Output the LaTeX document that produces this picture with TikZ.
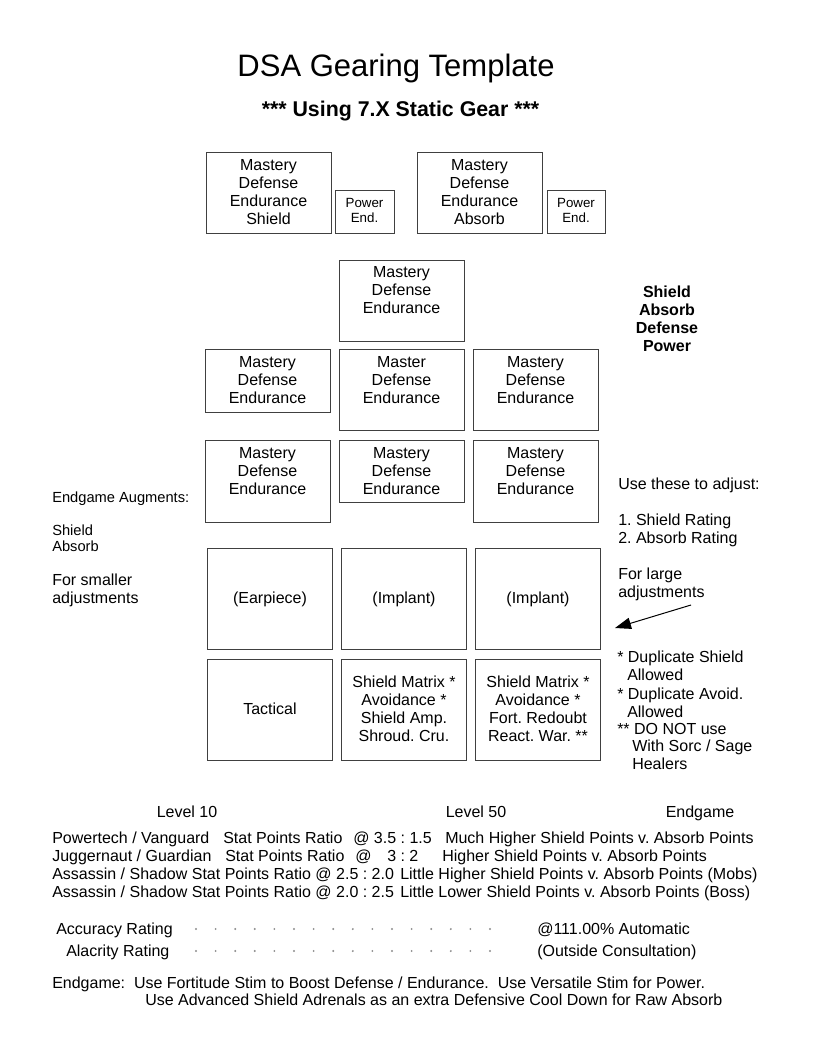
\documentclass[tikz,border=0pt]{standalone}
\usepackage{fontspec}
\setmainfont{Liberation Sans}
\usetikzlibrary{arrows.meta}
\begin{document}
\frenchspacing
\begin{tikzpicture}[x=0.75pt,y=-0.75pt,
  box/.style={draw=black!75,line width=0.75pt,inner sep=0pt,anchor=north west},
  sz/.style 2 args={minimum width=#1*0.75pt,minimum height=#2*0.75pt},
  bt/.style={font=\fontsize{12}{13.5}\selectfont,align=center,inner sep=0pt,anchor=north},
  bc/.style={font=\fontsize{12}{13.5}\selectfont,align=center,inner sep=0pt},
  pwr/.style={font=\fontsize{10}{11.25}\selectfont,align=center,inner sep=0pt,anchor=north},
  lt/.style={font=\fontsize{12}{13.5}\selectfont,inner sep=0pt,anchor=base west},
  ltc/.style={font=\fontsize{12}{13.5}\selectfont,inner sep=0pt,anchor=base},
  st/.style={font=\fontsize{11}{12}\selectfont,inner sep=0pt,anchor=base west},
  bd/.style={font=\fontsize{12}{13.5}\selectfont\bfseries,inner sep=0pt,anchor=base},
  dotc/.style={fill=black!45},
]
\useasboundingbox (0,0) rectangle (816,1056);

% titles
\node[font=\fontsize{23.25}{28}\selectfont,inner sep=0pt,anchor=base] (title) at (396,77) {DSA Gearing Template};
\node[font=\fontsize{16}{19}\selectfont\bfseries,inner sep=0pt,anchor=base] (sub) at (400.5,116) {*** Using 7.X Static Gear ***};

% top row
\node[box,sz={125}{81}] (bA) at (206,152) {};
\node[bt] (tA) at (268.5,159.5) {Mastery\\Defense\\Endurance\\Shield};
\node[box,sz={59}{43}] (pA) at (335,190) {};
\node[pwr] (tpA) at (364.5,198.5) {Power\\End.};
\node[box,sz={125}{81}] (bB) at (417,152) {};
\node[bt] (tB) at (479.5,159.5) {Mastery\\Defense\\Endurance\\Absorb};
\node[box,sz={58}{43}] (pB) at (547,190) {};
\node[pwr] (tpB) at (576,198.5) {Power\\End.};

% row 2
\node[box,sz={125}{81}] (bC) at (339,260) {};
\node[bt] (tC) at (401.5,266.5) {Mastery\\Defense\\Endurance};

% row 3
\node[box,sz={125}{63}] (r3a) at (205,349) {};
\node[bt] (t3a) at (267.5,356.5) {Mastery\\Defense\\Endurance};
\node[box,sz={125}{81}] (r3b) at (339,349) {};
\node[bt] (t3b) at (401.5,356.5) {Master\\Defense\\Endurance};
\node[box,sz={125}{81}] (r3c) at (473,349) {};
\node[bt] (t3c) at (535.5,356.5) {Mastery\\Defense\\Endurance};

% row 4
\node[box,sz={125}{82}] (r4a) at (205,440) {};
\node[bt] (t4a) at (267.5,447.5) {Mastery\\Defense\\Endurance};
\node[box,sz={125}{62}] (r4b) at (339,440) {};
\node[bt] (t4b) at (401.5,447.5) {Mastery\\Defense\\Endurance};
\node[box,sz={125}{82}] (r4c) at (473,440) {};
\node[bt] (t4c) at (535.5,447.5) {Mastery\\Defense\\Endurance};

% row 5
\node[box,sz={125}{101}] (r5a) at (207,548) {};
\node[bc] (t5a) at (r5a.center) {(Earpiece)};
\node[box,sz={125}{101}] (r5b) at (341,548) {};
\node[bc] (t5b) at (r5b.center) {(Implant)};
\node[box,sz={125}{101}] (r5c) at (475,548) {};
\node[bc] (t5c) at (r5c.center) {(Implant)};

% row 6
\node[box,sz={125}{101}] (r6a) at (207,659) {};
\node[bc] (t6a) at ([yshift=0.75pt]r6a.center) {Tactical};
\node[box,sz={125}{101}] (r6b) at (341,659) {};
\node[bc] (t6b) at ([yshift=0.75pt]r6b.center) {Shield Matrix *\\Avoidance *\\Shield Amp.\\Shroud. Cru.};
\node[box,sz={125}{101}] (r6c) at (475,659) {};
\node[bc] (t6c) at ([yshift=0.75pt]r6c.center) {Shield Matrix *\\Avoidance *\\Fort. Redoubt\\React. War. **};

% right bold list
\node[bd] (s1) at (667,297) {Shield};
\node[bd] (s2) at (667,315) {Absorb};
\node[bd] (s3) at (667,333) {Defense};
\node[bd] (s4) at (667,351) {Power};

% left notes
\node[st] (l1) at (52,502) {Endgame Augments:};
\node[st] (l2) at (52,535) {Shield};
\node[st] (l3) at (52,551) {Absorb};
\node[lt] (l4) at (52,585) {For smaller};
\node[lt] (l5) at (52,603) {adjustments};

% right notes
\node[lt] (n1) at (618,489) {Use these to adjust:};
\node[lt] (n2) at (618,525) {1. Shield Rating};
\node[lt] (n3) at (618,543) {2. Absorb Rating};
\node[lt] (n4) at (618,579) {For large};
\node[lt] (n5) at (618,597) {adjustments};
\coordinate (arS) at (691,605);
\coordinate (arE) at (615,628);
\draw[line width=0.75pt,-{Triangle[length=12pt,width=8.5pt]}] (arS) -- (arE);
\node[lt] (n6) at (617,662) {* Duplicate Shield};
\node[lt] (n7) at (627,680) {Allowed};
\node[lt] (n8) at (617,699) {* Duplicate Avoid.};
\node[lt] (n9) at (627,717) {Allowed};
\node[lt] (n10) at (617,734) {** DO NOT use};
\node[lt] (n11) at (632,751) {With Sorc / Sage};
\node[lt] (n12) at (632,769) {Healers};

% level table
\node[ltc] (lv10) at (187,817) {Level 10};
\node[ltc] (lv50) at (476,817) {Level 50};
\node[ltc] (lvE) at (700,817) {Endgame};

\node[lt] (a1) at (52,843) {Powertech / Vanguard};
\node[lt] (a2) at (223,843) {Stat Points Ratio};
\node[lt] (a3) at (353,843) {@ 3.5 : 1.5};
\node[lt] (a4) at (445,843) {Much Higher Shield Points v. Absorb Points};

\node[lt] (b1) at (52,861) {Juggernaut / Guardian};
\node[lt] (b2) at (225,861) {Stat Points Ratio};
\node[lt] (b3) at (355,861) {@};
\node[lt] (b4) at (387,861) {3 : 2};
\node[lt] (b5) at (442,861) {Higher Shield Points v. Absorb Points};

\node[lt] (c1) at (52,879) {Assassin / Shadow Stat Points Ratio @ 2.5 : 2.0};
\node[lt] (c2) at (400,879) {Little Higher Shield Points v. Absorb Points (Mobs)};

\node[lt] (d1) at (52,897) {Assassin / Shadow Stat Points Ratio @ 2.0 : 2.5};
\node[lt] (d2) at (400,897) {Little Lower Shield Points v. Absorb Points (Boss)};

% ratings
\node[lt] (acc) at (56,934) {Accuracy Rating};
\node[lt] (ala) at (66,956) {Alacrity Rating};
\foreach \i in {0,...,15} {
  \fill[dotc] (196+\i*19.6,929) circle (0.8pt);
  \fill[dotc] (196+\i*19.6,951) circle (0.8pt);
}
\node[lt] (accv) at (537,934) {@111.00\% Automatic};
\node[lt] (alav) at (537,956) {(Outside Consultation)};

% endgame notes
\node[lt] (e1) at (52,988) {Endgame:\ \ Use Fortitude Stim to Boost Defense / Endurance.\ \ Use Versatile Stim for Power.};
\node[lt] (e2) at (145,1005) {Use Advanced Shield Adrenals as an extra Defensive Cool Down for Raw Absorb};
\end{tikzpicture}
\end{document}
